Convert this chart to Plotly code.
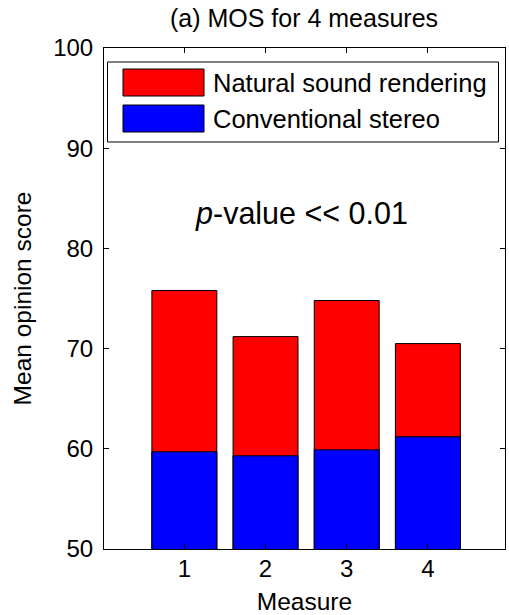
import plotly.graph_objects as go

measures = [1, 2, 3, 4]
tick_labels = ["1", "2", "3", "4"]
natural = [75.8, 71.2, 74.8, 70.5]
conventional = [59.7, 59.3, 59.9, 61.2]
series_names = ["Natural sound rendering", "Conventional stereo"]
series_colors = ["#ff0000", "#0000ff"]

FONT = "Liberation Sans, Arial, Helvetica, sans-serif"

fig = go.Figure()
for name, vals, col in zip(series_names, [natural, conventional], series_colors):
    fig.add_trace(go.Bar(x=measures, y=vals, name=name, width=0.8,
                         marker=dict(color=col, line=dict(color="black", width=1)),
                         showlegend=False))

L, R, T, B = 104, 4, 48, 66
W, H = 509, 615
pw, ph = W - L - R, H - T - B

def px(x):
    return (x - L) / pw

def py(y):
    return (H - B - y) / ph

shapes = [
    dict(type="rect", xref="paper", yref="paper", x0=px(107.5), x1=px(498.5), y0=py(142), y1=py(62),
         line=dict(color="black", width=1), fillcolor="white", layer="above"),
    dict(type="rect", xref="paper", yref="paper", x0=px(123), x1=px(204), y0=py(96), y1=py(69),
         line=dict(color="black", width=1), fillcolor=series_colors[0], layer="above"),
    dict(type="rect", xref="paper", yref="paper", x0=px(123), x1=px(204), y0=py(132), y1=py(105),
         line=dict(color="black", width=1), fillcolor=series_colors[1], layer="above"),
]

annotations = [
    dict(xref="paper", yref="paper", x=px(211), y=py(82.5), text=series_names[0], showarrow=False,
         xanchor="left", yanchor="middle", font=dict(family=FONT, size=25.5, color="black")),
    dict(xref="paper", yref="paper", x=px(211), y=py(118.5), text=series_names[1], showarrow=False,
         xanchor="left", yanchor="middle", font=dict(family=FONT, size=25.5, color="black")),
    dict(xref="paper", yref="paper", x=px(301), y=py(213), text="<i>p</i>-value &lt;&lt; 0.01",
         showarrow=False, xanchor="center", yanchor="middle", font=dict(family=FONT, size=30.5, color="black")),
]

fig.update_layout(
    width=W, height=H,
    margin=dict(l=L, r=R, t=T, b=B),
    paper_bgcolor="white", plot_bgcolor="white",
    barmode="overlay",
    font=dict(family=FONT, size=24, color="black"),
    title=dict(text="(a) MOS for 4 measures", x=px(304), xref="paper", y=1 - 18 / H, yanchor="middle",
               xanchor="center", font=dict(family=FONT, size=25, color="black")),
    shapes=shapes,
    annotations=annotations,
)
fig.update_xaxes(range=[0.01, 4.95], tickvals=measures, ticktext=tick_labels, ticks="inside", ticklen=5,
                 tickcolor="black", showline=True, linecolor="black", linewidth=1, mirror="ticks",
                 showgrid=False, zeroline=False, ticklabelstandoff=-2,
                 title=dict(text="Measure", standoff=12, font=dict(size=24.5)),
                 tickfont=dict(size=24))
fig.update_yaxes(range=[50, 100], tickvals=[50, 60, 70, 80, 90, 100], ticks="inside", ticklen=5,
                 tickcolor="black", showline=True, linecolor="black", linewidth=1, mirror="ticks",
                 showgrid=False, zeroline=False, ticklabelstandoff=5,
                 title=dict(text="Mean opinion score", standoff=14, font=dict(size=24.5)),
                 tickfont=dict(size=24))

fig.write_html("out.html", config={"displayModeBar": False},
               post_script="document.body.style.margin='0';")
